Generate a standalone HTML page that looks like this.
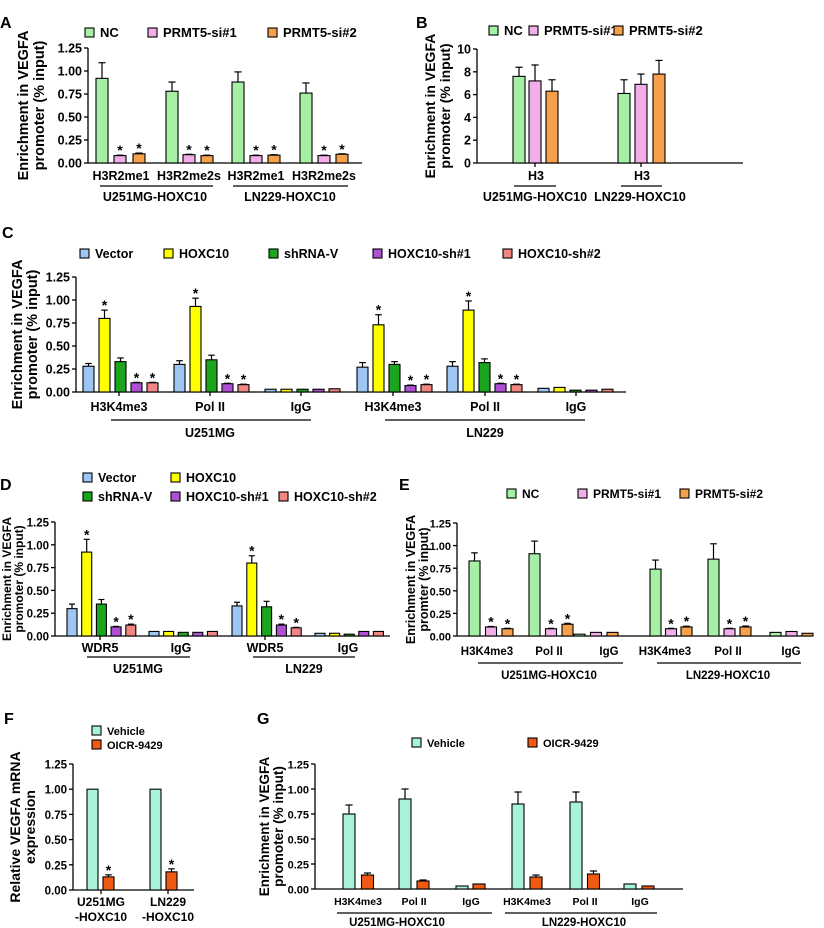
<!DOCTYPE html>
<html><head><meta charset="utf-8"><style>
body{margin:0;background:#fff}
svg{display:block}
text{font-family:"Liberation Sans",Arial,sans-serif;font-weight:bold;fill:#000}
</style></head><body>
<svg id="s" width="824" height="928" viewBox="0 0 824 928" xmlns="http://www.w3.org/2000/svg"></svg>
<script>
const S=document.getElementById('s');let H='';
function t(x,y,s,fs,anc,extra){H+=`<text x="${x}" y="${y}" font-size="${fs}" text-anchor="${anc||'middle'}" ${extra||''}>${s}</text>`;}
function l(x1,y1,x2,y2,w){H+=`<line x1="${x1}" y1="${y1}" x2="${x2}" y2="${y2}" stroke="#000" stroke-width="${w||1.3}"/>`;}
function r(x,y,w,h,c){H+=`<rect x="${x}" y="${y}" width="${w}" height="${h}" fill="${c}" stroke="#000" stroke-width="1.1"/>`;}
function P(o){
 const Y=v=>o.y0-v/o.max*(o.y0-o.yt);
 l(o.ax,o.yt,o.ax,o.y0);l(o.ax,o.y0,o.xe,o.y0);
 for(let v=0;v<=o.max+1e-9;v+=o.step){const y=Y(v);l(o.ax-4,y,o.ax,y);t(o.ax-6,y+4.5,v.toFixed(o.dec),o.fs||12.5,'end');}
 (o.ticks||[]).forEach(x=>l(x,o.y0,x,o.y0+4));
 o.bars.forEach(b=>{const [x,v,e,c,st]=b;const w=o.w;const top=Y(v);
  if(e>0){const et=Y(v+e);l(x+w/2,top,x+w/2,et,1.2);l(x+w/2-w*0.3,et,x+w/2+w*0.3,et,1.2);}
  r(x,top,w,o.y0-top,c);
  if(st){const et=Y(v+e);t(x+w/2,et,'*',14);}
 });
 if(o.title){const cx=o.tx,cy=(o.y0+o.yt)/2,sp=o.tsp||17,tf=o.tfs||14.5;o.title.forEach((s,i)=>{t(cx+i*sp,cy,s,tf,'middle',`transform="rotate(-90 ${cx+i*sp} ${cy})"`);});}
}
function leg(x,y,c,s,fs){r(x,y-9,9,9,c);t(x+15,y,s,fs||12.5,'start');}
const NC='#a6f0a6',S1='#f2aee9',S2='#f7a04c',VE='#9ec6f2',HX='#ffff00',SV='#1ca51c',P1='#b04fd6',P2='#f28482',VH='#a8f2dc',OI='#f05a12';
// A
t(0,28,'A',16,'start');
leg(85,37,NC,'NC',13);leg(148,37,S1,'PRMT5-si#1',13);leg(268,37,S2,'PRMT5-si#2',13);
P({ax:88,y0:163,yt:48,xe:362,max:1.25,step:0.25,dec:2,w:12,tx:28,tsp:16,title:['Enrichment in VEGFA','promoter (% input)'],
bars:[[96,.92,.17,NC],[114,.08,.005,S1,1],[133,.10,.008,S2,1],[166,.78,.10,NC],[183,.09,.005,S1,1],[201,.08,.005,S2,1],
[232,.88,.11,NC],[250,.08,.005,S1,1],[268,.085,.005,S2,1],[300,.76,.11,NC],[318,.08,.005,S1,1],[336,.095,.005,S2,1]],
ticks:[]});
t(121,180,'H3R2me1',12.5);t(189,180,'H3R2me2s',12.5);t(256,180,'H3R2me1',12.5);t(324,180,'H3R2me2s',12.5);
l(100,186,213,186);l(233,186,348,186);t(155,201,'U251MG-HOXC10',12.5);t(290,201,'LN229-HOXC10',12.5);
// B
t(416,28,'B',16,'start');
leg(489,35,NC,'NC',13);leg(529,35,S1,'PRMT5-si#1',13);leg(614,35,S2,'PRMT5-si#2',13);
P({ax:477,y0:163,yt:49,xe:743,max:10,step:2,dec:0,w:12,tx:435,tsp:15,tfs:14,title:['Enrichment in VEGFA','promoter (% input)'],
bars:[[513,7.6,.8,NC],[529,7.2,1.4,S1],[546,6.3,1.0,S2],[618,6.1,1.2,NC],[635,6.9,.9,S1],[653,7.8,1.2,S2]],ticks:[535,641]});
t(536,180,'H3',12.5);t(642,180,'H3',12.5);l(514,186,556,186);l(621,186,662,186);
t(535,201,'U251MG-HOXC10',12.5);t(640,201,'LN229-HOXC10',12.5);
// C
t(2,238,'C',16,'start');
leg(80,258,VE,'Vector');leg(164,258,HX,'HOXC10');leg(269,258,SV,'shRNA-V');leg(373,258,P1,'HOXC10-sh#1');leg(503,258,P2,'HOXC10-sh#2');
function grp(x0,vals,errs,stars,cols,step){return vals.map((v,i)=>[x0+i*step,v,errs[i],cols[i],stars[i]]);}
const C5=[VE,HX,SV,P1,P2];
P({ax:76,y0:392,yt:277,xe:626,max:1.25,step:0.25,dec:2,w:11,tx:22,tsp:15,title:['Enrichment in VEGFA','promoter (% input)'],ticks:[119,210,301,393,485,576],
bars:[].concat(grp(83,[.28,.80,.33,.10,.10],[.03,.09,.04,.005,.005],[0,1,0,1,1],C5,16),
grp(174,[.30,.93,.35,.09,.08],[.04,.09,.05,.005,.005],[0,1,0,1,1],C5,16),
grp(265,[.03,.03,.03,.03,.035],[0,0,0,0,0],[0,0,0,0,0],C5,16),
grp(357,[.27,.73,.30,.07,.08],[.05,.11,.03,.005,.005],[0,1,0,1,1],C5,16),
grp(447,[.28,.89,.32,.09,.08],[.05,.10,.04,.005,.005],[0,1,0,1,1],C5,16),
grp(538,[.04,.05,.02,.02,.03],[0,0,0,0,0],[0,0,0,0,0],C5,16))});
[[119,'H3K4me3'],[210,'Pol II'],[301,'IgG'],[393,'H3K4me3'],[485,'Pol II'],[576,'IgG']].forEach(a=>t(a[0],411,a[1],12.5));
l(111,420,311,420);l(385,420,585,420);t(210,437,'U251MG',12.5);t(485,437,'LN229',12.5);
// D
t(0,490,'D',16,'start');
leg(83,482,VE,'Vector');leg(171,482,HX,'HOXC10');leg(83,501,SV,'shRNA-V');leg(171,501,P1,'HOXC10-sh#1');leg(279,501,P2,'HOXC10-sh#2');
P({ax:55,y0:636,yt:522,xe:390,max:1.25,step:0.25,dec:2,w:10,fs:11.5,tx:11,tsp:12,tfs:12,title:['Enrichment in VEGFA','promoter (% input)'],ticks:[100,265],
bars:[].concat(grp(67,[.30,.92,.35,.10,.12],[.05,.14,.05,.005,.01],[0,1,0,1,1],C5,14.7),
grp(149,[.05,.05,.04,.04,.05],[0,0,0,0,0],[0,0,0,0,0],C5,14.6),
grp(232,[.33,.80,.32,.12,.09],[.04,.08,.06,.01,.005],[0,1,0,1,1],C5,14.8),
grp(315,[.03,.03,.02,.05,.05],[0,0,0,0,0],[0,0,0,0,0],C5,14.6))});
t(100,652,'WDR5',12.5);t(181,652,'IgG',12.5);t(265,652,'WDR5',12.5);t(348,652,'IgG',12.5);
l(87,657,190,657);l(253,657,355,657);t(138,673,'U251MG',12.5);t(304,673,'LN229',12.5);
// E
t(399,490,'E',16,'start');
leg(507,498,NC,'NC',12);leg(578,498,S1,'PRMT5-si#1',12);leg(680,498,S2,'PRMT5-si#2',12);
const C3=[NC,S1,S2];
P({ax:457,y0:636,yt:523,xe:812,max:1.25,step:0.25,dec:2,w:11,fs:11,tx:415,tsp:13,tfs:12.5,title:['Enrichment in VEGFA','promter (% input)'],ticks:[],
bars:[].concat(grp(469,[.83,.10,.08],[.09,.005,.005],[0,1,1],C3,16.5),
grp(529,[.91,.08,.13],[.14,.005,.01],[0,1,1],C3,16.5),
grp(574,[.02,.04,.04],[0,0,0],[0,0,0],C3,16.5),
grp(650,[.74,.08,.10],[.10,.005,.008],[0,1,1],C3,15.5),
grp(708,[.85,.08,.10],[.17,.005,.01],[0,1,1],C3,16),
grp(770,[.04,.05,.03],[0,0,0],[0,0,0],C3,16))});
[[487,'H3K4me3'],[549,'Pol II'],[609,'IgG'],[665,'H3K4me3'],[728,'Pol II'],[791,'IgG']].forEach(a=>t(a[0],655,a[1],11.5));
l(478,663,623,663);l(657,663,801,663);t(549,679,'U251MG-HOXC10',11.5);t(728,679,'LN229-HOXC10',11.5);
// F
t(4,724,'F',16,'start');
leg(92,735,VH,'Vehicle',11);leg(92,749,OI,'OICR-9429',11);
P({ax:73,y0:890,yt:764,xe:194,max:1.25,step:0.25,dec:2,w:11,fs:11.5,tx:20,tsp:15,tfs:14,title:['Relative VEGFA mRNA','expression'],ticks:[101,168],
bars:[[87,1.0,0,VH],[103,.13,.02,OI,1],[150,1.0,0,VH],[166,.18,.03,OI,1]]});
t(101,906,'U251MG',12);t(101,921,'-HOXC10',12);t(168,906,'LN229',12);t(168,921,'-HOXC10',12);
// G
t(257,724,'G',16,'start');
leg(412,747,VH,'Vehicle',11);leg(528,747,OI,'OICR-9429',11);
const C2=[VH,OI];
P({ax:315,y0:889,yt:764,xe:683,max:1.25,step:0.25,dec:2,w:12,fs:11,tx:269,tsp:14,tfs:13.5,title:['Enrichment in VEGFA','promoter (% input)'],ticks:[],
bars:[].concat(grp(343,[.75,.14],[.09,.02],[0,0],C2,18.5),grp(399,[.90,.08],[.10,.01],[0,0],C2,18),
grp(456,[.03,.05],[0,0],[0,0],C2,17),grp(512,[.85,.12],[.12,.02],[0,0],C2,18),
grp(570,[.87,.15],[.10,.03],[0,0],C2,17.5),grp(624,[.05,.03],[0,0],[0,0],C2,18))});
[[358,'H3K4me3'],[414,'Pol II'],[471,'IgG'],[527,'H3K4me3'],[585,'Pol II'],[640,'IgG']].forEach(a=>t(a[0],905,a[1],10.5));
l(337,913,492,913);l(505,913,657,913);t(397,926,'U251MG-HOXC10',11.5);t(584,926,'LN229-HOXC10',11.5);
S.innerHTML=H;
</script>
</body></html>
